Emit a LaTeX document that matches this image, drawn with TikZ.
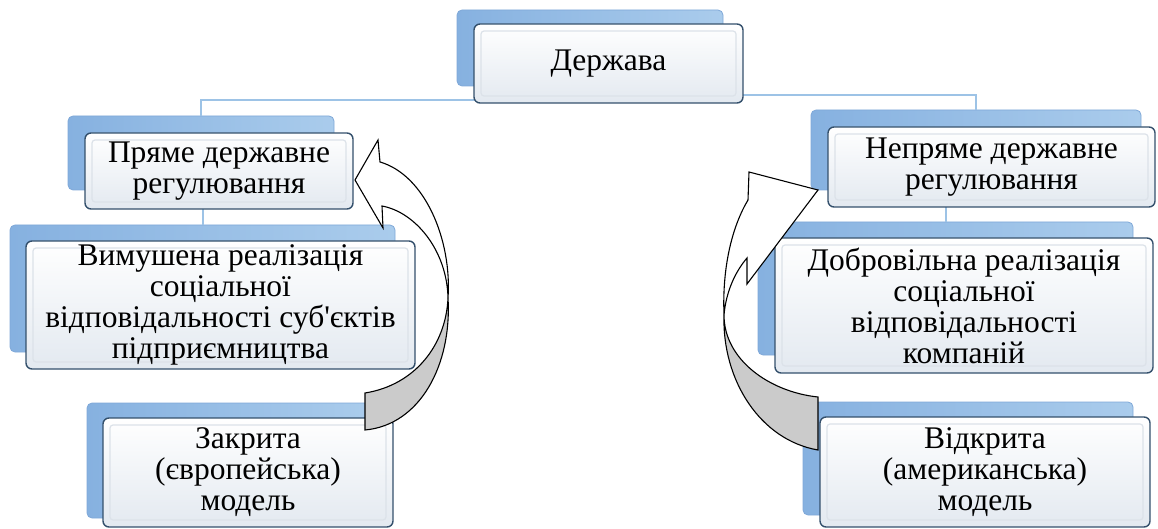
\documentclass[tikz,border=0pt]{standalone}
\usepackage{fontspec}
\setmainfont{Liberation Serif}[Ligatures=TeXOff]
\definecolor{backdraw}{HTML}{7FA8D8}
\definecolor{backL}{HTML}{86B1E0}
\definecolor{backR}{HTML}{AACCEC}
\definecolor{frontdraw}{HTML}{34506C}
\definecolor{frontB}{HTML}{E3E9F0}
\definecolor{bevel}{HTML}{DCE2E9}
\definecolor{connc}{HTML}{9DC3E6}
\definecolor{arrgray}{HTML}{CBCBCB}
\begin{document}
\begin{tikzpicture}[x=1pt,y=-1pt,
  back/.style={draw=backdraw, line width=0.8pt, rounded corners=5pt, left color=backL, right color=backR, inner sep=0pt},
  front/.style={draw=frontdraw, line width=1.4pt, rounded corners=6pt, top color=white, bottom color=frontB, inner sep=0pt, align=center,
    font=\fontsize{31.5}{31}\selectfont,
    path picture={\draw[bevel, line width=1.2pt, rounded corners=3pt] ([shift={(7pt,-7pt)}]path picture bounding box.north west) rectangle ([shift={(-7pt,7pt)}]path picture bounding box.south east);}},
  conn/.style={draw=connc, line width=2pt},
  arrfront/.style={draw=black, line width=1.1pt, fill=white, line join=miter},
  arrback/.style={draw=black, line width=1.1pt, fill=arrgray, line join=miter}
]
\useasboundingbox (0,0) rectangle (1158,529);
\coordinate (jl) at (0,100);
\coordinate (jr) at (0,95);
% backing boxes
\node[back, minimum width=266pt, minimum height=76pt] (bdz) at (590,48) {};
\node[back, minimum width=266pt, minimum height=74pt] (bp) at (201,153) {};
\node[back, minimum width=385pt, minimum height=127pt] (bv) at (202.5,288.5) {};
\node[back, minimum width=283pt, minimum height=115pt] (bz) at (228.5,460.5) {};
\node[back, minimum width=330pt, minimum height=80pt] (bn) at (976,150) {};
\node[back, minimum width=375pt, minimum height=133pt] (bd) at (945.5,288.5) {};
\node[back, minimum width=330pt, minimum height=113pt] (bo) at (968,458.5) {};
% connectors
\draw[conn] (bdz.south) -- (bdz.south |- jl) -| (bp.north);
\draw[conn] (bdz.south) -- (bdz.south |- jr) -| (bn.north);
\draw[conn] (bv.north) -- (bv.north |- bp.south);
\draw[conn] (bd.north) -- (bd.north |- bn.south);
% front boxes
\node[front, minimum width=269pt, minimum height=79pt] (fdz) at (608.5,63.5) {Держава};
\node[front, minimum width=268pt, minimum height=76pt] (fp) at (219,171) {Пряме державне\\регулювання};
\node[front, minimum width=389pt, minimum height=128pt] (fv) at (220.5,305) {Вимушена реалізація\\соціальної\\відповідальності суб'єктів\\підприємництва};
\node[front, minimum width=290pt, minimum height=109pt] (fz) at (248,472.5) {Закрита\\(європейська)\\модель};
\node[front, minimum width=327pt, minimum height=80pt] (fn) at (991.5,167) {Непряме державне\\регулювання};
\node[front, minimum width=378pt, minimum height=135pt] (fd) at (964,305.5) {Добровільна реалізація\\соціальної\\відповідальності\\компаній};
\node[front, minimum width=330pt, minimum height=110pt] (fo) at (985,472) {Відкрита\\(американська)\\модель};
% left curved arrow
\draw[arrback] (448,298) .. controls (446,345) and (415,385) .. (365,393) -- (365,430) .. controls (420,425) and (452,365) .. (448,298) -- cycle;
\draw[arrfront] (378,140) -- (355,180) -- (383,228) -- (382,206)
  .. controls (415,212) and (447,250) .. (448,298)
  .. controls (452,240) and (425,175) .. (380,162) -- cycle;
% right curved arrow
\draw[arrback] (724,315) .. controls (724,360) and (770,392) .. (818,397) -- (818,450) .. controls (760,440) and (722,380) .. (724,315) -- cycle;
\draw[arrfront] (749,172) -- (818,190) -- (747,284) -- (747,258)
  .. controls (735,272) and (726,292) .. (724,315)
  .. controls (722,265) and (733,225) .. (748,200) -- cycle;
\end{tikzpicture}
\end{document}
